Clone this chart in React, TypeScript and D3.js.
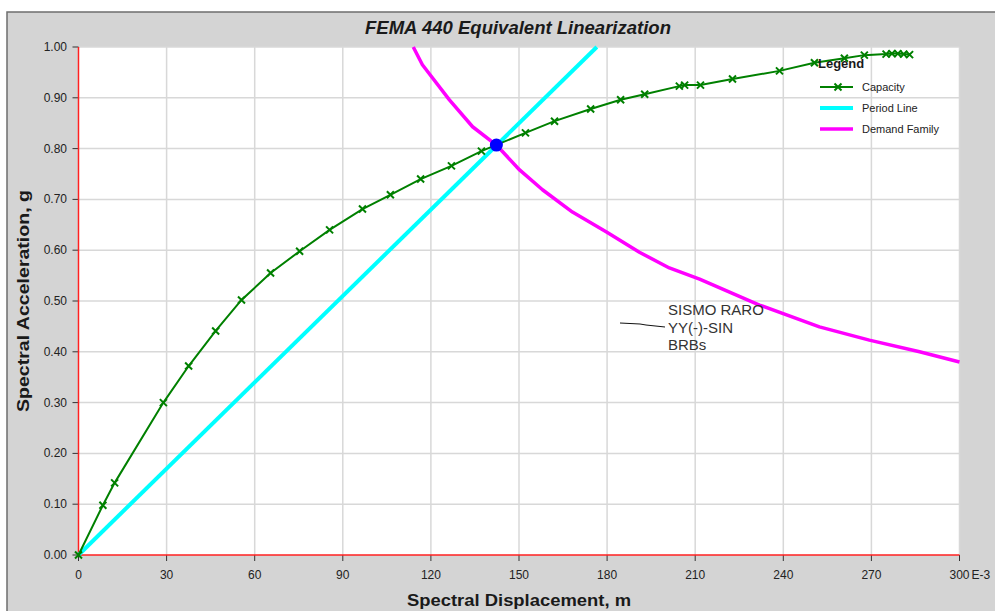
import React from "react";
import * as d3 from "d3";

const title = "FEMA 440 Equivalent Linearization";
const xTitle = "Spectral Displacement, m";
const yTitle = "Spectral Acceleration, g";
const xTicks = [0, 30, 60, 90, 120, 150, 180, 210, 240, 270, 300];
const yTicks = [0, 0.1, 0.2, 0.3, 0.4, 0.5, 0.6, 0.7, 0.8, 0.9, 1.0];

const capacityX = [0, 8.3, 12.3, 28.9, 37.5, 46.7, 55.5, 65.4, 75.3, 85.5, 96.7, 106.2, 116.5, 127.0, 137.2, 152.2, 162.1, 174.4, 184.6, 192.8, 204.6, 206.4, 211.8, 222.7, 238.7, 250.6, 260.8, 267.6, 275.0, 277.0, 279.0, 281.0, 283.0];
const capacityY = [0, 0.098, 0.142, 0.30, 0.372, 0.441, 0.502, 0.555, 0.598, 0.64, 0.681, 0.709, 0.74, 0.766, 0.795, 0.831, 0.854, 0.878, 0.896, 0.907, 0.923, 0.925, 0.925, 0.937, 0.953, 0.969, 0.978, 0.984, 0.986, 0.987, 0.987, 0.986, 0.985];

const periodX = [0, 176.5];
const periodY = [0, 1.0];

const demandX = [114.0, 117.1, 126.3, 134.2, 142.3, 150.2, 158.0, 168.2, 179.8, 191.0, 201.2, 211.5, 231.9, 252.3, 269.3, 286.4, 300.0];
const demandY = [1.0, 0.965, 0.896, 0.843, 0.807, 0.758, 0.719, 0.675, 0.636, 0.596, 0.565, 0.543, 0.492, 0.449, 0.423, 0.40, 0.38];

const perfPoint = [142.3, 0.807];

const legendLabels = ["Capacity", "Period Line", "Demand Family"];
const annotationLines = ["SISMO RARO", "YY(-)-SIN", "BRBs"];

const W = 995;
const H = 611;
const L = 78.5, R = 959.5, T = 47, B = 555;

export default function App() {
  const x = d3.scaleLinear().domain([0, 300]).range([L, R]);
  const y = d3.scaleLinear().domain([0, 1]).range([B, T]);
  const line = d3.line<[number, number]>().x((d) => x(d[0])).y((d) => y(d[1]));

  const cap: [number, number][] = capacityX.map((v, i) => [v, capacityY[i]]);
  const per: [number, number][] = periodX.map((v, i) => [v, periodY[i]]);
  const dem: [number, number][] = demandX.map((v, i) => [v, demandY[i]]);

  const font = "'Liberation Sans', Arial, sans-serif";
  const legendColors = ["#008000", "#00ffff", "#ff00ff"];
  const legendWidths = [2, 4, 3.5];

  const xMark = (cx: number, cy: number, s: number, k: string) => (
    <path key={k} d={`M${cx - s},${cy - s}L${cx + s},${cy + s}M${cx - s},${cy + s}L${cx + s},${cy - s}`} stroke="#008000" strokeWidth={2} fill="none" />
  );

  return (
    <svg width={W} height={H} style={{ position: "absolute", left: 0, top: 0, background: "#fff" }} fontFamily={font}>
      <rect x={7} y={12} width={W} height={H} fill="#d4d4d4" stroke="#6e6e6e" strokeWidth={1.5} />
      <text x={518} y={34} textAnchor="middle" fontSize={18} fontWeight="bold" fontStyle="italic" fill="#1a1a1a" fontFamily="'Liberation Sans Narrow', 'Liberation Sans', Arial, sans-serif" textLength={306} lengthAdjust="spacingAndGlyphs">{title}</text>
      <rect x={L} y={T} width={R - L} height={B - T} fill="#ffffff" />
      {xTicks.slice(1).map((t) => (
        <line key={"gx" + t} x1={x(t)} x2={x(t)} y1={T} y2={B} stroke="#d8d8d8" strokeWidth={1.5} />
      ))}
      {yTicks.slice(1).map((t) => (
        <line key={"gy" + t} x1={L} x2={R} y1={y(t)} y2={y(t)} stroke="#d8d8d8" strokeWidth={1.5} />
      ))}
      {xTicks.map((t) => (
        <g key={"tx" + t}>
          <line x1={x(t)} x2={x(t)} y1={B} y2={B + 6} stroke="#333" strokeWidth={1} />
          <text x={x(t)} y={579} textAnchor="middle" fontSize={12} fill="#222">{t}</text>
        </g>
      ))}
      <text x={x(300) + 12} y={579} fontSize={12} fill="#222">E-3</text>
      {yTicks.map((t) => (
        <g key={"ty" + t}>
          <line x1={L - 6} x2={L} y1={y(t)} y2={y(t)} stroke="#333" strokeWidth={1} />
          <text x={67} y={y(t) + 4} textAnchor="end" fontSize={12} fill="#222">{t.toFixed(2)}</text>
        </g>
      ))}
      <line x1={L} x2={L} y1={T} y2={B} stroke="#ff2020" strokeWidth={1.5} />
      <line x1={L} x2={R} y1={B} y2={B} stroke="#ff2020" strokeWidth={1.5} />
      <text x={519} y={606} textAnchor="middle" fontSize={17} fontWeight="bold" fill="#1a1a1a" textLength={224} lengthAdjust="spacingAndGlyphs">{xTitle}</text>
      <text transform={`translate(29,301) rotate(-90)`} textAnchor="middle" fontSize={17} fontWeight="bold" fill="#1a1a1a" textLength={222} lengthAdjust="spacingAndGlyphs">{yTitle}</text>

      <path d={line(per) || ""} stroke="#00ffff" strokeWidth={4} fill="none" />
      <path d={line(dem) || ""} stroke="#ff00ff" strokeWidth={3.5} fill="none" strokeLinejoin="round" />
      <path d={line(cap) || ""} stroke="#008000" strokeWidth={2} fill="none" />
      {cap.map((d, i) => xMark(x(d[0]), y(d[1]), 3.5, "m" + i))}
      <circle cx={x(perfPoint[0])} cy={y(perfPoint[1])} r={6.5} fill="#0000ff" />

      <polyline points="620,323 640,324 646,325 665,327" stroke="#111" strokeWidth={1} fill="none" />
      {annotationLines.map((s, i) => (
        <text key={s} x={668} y={315 + i * 17.5} fontSize={15} fill="#333">{s}</text>
      ))}

      <text x={818} y={68} fontSize={13} fontWeight="bold" fill="#1a1a1a">Legend</text>
      {legendLabels.map((s, i) => (
        <g key={s}>
          <line x1={820} x2={853} y1={87 + i * 21} y2={87 + i * 21} stroke={legendColors[i]} strokeWidth={legendWidths[i]} />
          {i === 0 ? xMark(838, 87, 3.5, "lm") : null}
          <text x={862} y={91 + i * 21} fontSize={11} fill="#222">{s}</text>
        </g>
      ))}
    </svg>
  );
}
